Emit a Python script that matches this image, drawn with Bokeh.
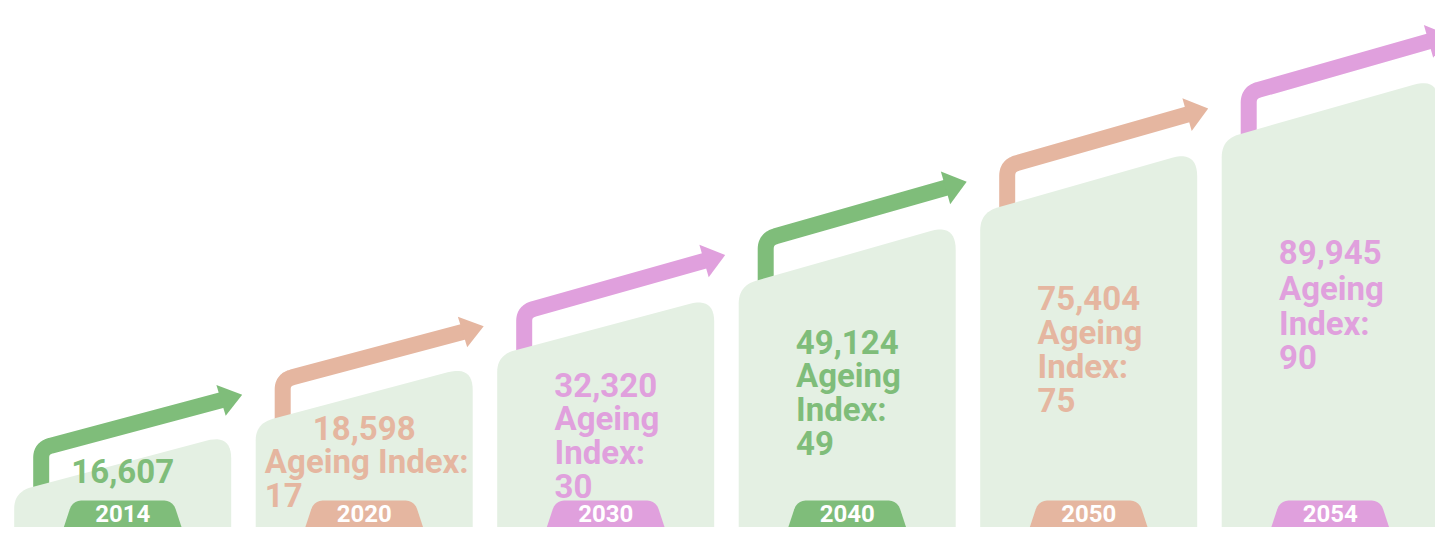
import math
from bokeh.plotting import figure
from bokeh.models import Range1d, ColumnDataSource
from bokeh.core.properties import value
from bokeh.embed import file_html
from bokeh.resources import INLINE

# ---------------- data ----------------
years = ["2014", "2020", "2030", "2040", "2050", "2054"]
population = [16607, 18598, 32320, 49124, 75404, 89945]
ageing_index = [None, 17, 30, 49, 75, 90]

# ---------------- style ----------------
palette = ["#7fbd7a", "#e5b6a0", "#e0a0dd"]
card_fill = "#e4f0e3"
FONT = "Roboto"
wrap_label = [True, False, True, True, True, True]

# ---------------- layout ----------------
W, H = 1435, 527          # figure size in pixels
DESIGN_H = 543            # height of the design the layout is drawn in
SLOT = 241.5
FIRST_CENTER = 122.2
CARD_W = 217.0
CARD_TOP0 = 443.0
CARD_STEP = 73.2
SLOPE = 0.285
BOTTOM = 600.0
ARROW_GAP = 39.0
FS = 33
LINE_H = 36.0
CAP = 0.711 * FS
BASE_FIX = 0.3            # svg text baseline correction (em)
TEXT_TOP0 = 468.0
TEXT_STEP = 46.0
TAB_TOP = 514.0
YEAR_FS = 24
WARP_FROM = 300.0


def fy(y):
    """Fit the design height into the figure, compressing only its lower part."""
    if y <= WARP_FROM:
        return y
    k = (H - WARP_FROM) / (DESIGN_H - WARP_FROM)
    return WARP_FROM + (y - WARP_FROM) * k


CH = {"0": .5615, "1": .5615, "2": .5615, "3": .5615, "4": .5615, "5": .5615,
      "6": .5615, "7": .5615, "8": .5615, "9": .5615, ",": .21, "A": .663,
      "g": .555, "e": .53, "i": .246, "n": .555, "I": .287, "d": .56,
      "x": .5, ":": .235, " ": .249}


def text_w(s, fs=FS):
    return sum(CH.get(c, .55) for c in s) * fs


def rounded(pts, ds, closed=True, n=12):
    xs, ys = [], []
    N = len(pts)
    for k in range(N):
        vx, vy = pts[k]
        d = ds[k]
        if d <= 0 or (not closed and (k == 0 or k == N - 1)):
            xs.append(vx); ys.append(vy)
            continue
        px, py = pts[k - 1]
        qx, qy = pts[(k + 1) % N]
        l1 = math.hypot(px - vx, py - vy)
        l2 = math.hypot(qx - vx, qy - vy)
        ax, ay = vx + (px - vx) * d / l1, vy + (py - vy) * d / l1
        bx, by = vx + (qx - vx) * d / l2, vy + (qy - vy) * d / l2
        for j in range(n + 1):
            t = j / n
            xs.append((1 - t) ** 2 * ax + 2 * (1 - t) * t * vx + t * t * bx)
            ys.append((1 - t) ** 2 * ay + 2 * (1 - t) * t * vy + t * t * by)
    return xs, [fy(v) for v in ys]


p = figure(width=W, height=H, x_range=Range1d(0, W), y_range=Range1d(H, 0),
           output_backend="svg", toolbar_location=None, min_border=0,
           x_axis_location=None, y_axis_location=None)
p.grid.visible = False
p.outline_line_color = None
p.background_fill_color = "white"
p.border_fill_color = "white"

card_xs, card_ys = [], []
arr_xs, arr_ys, arr_col = [], [], []
head_xs, head_ys = [], []
tab_xs, tab_ys = [], []
val_x, val_y, val_t, val_c = [], [], [], []
lab_x, lab_y, lab_t, lab_c = [], [], [], []
yr_x, yr_y = [], []

norm = math.hypot(1, SLOPE)
dvx, dvy = 1 / norm, -SLOPE / norm
nvx, nvy = SLOPE / norm, 1 / norm

for i, yr in enumerate(years):
    col = palette[i % 3]
    cc = FIRST_CENTER + SLOT * i
    xl, xr = cc - CARD_W / 2, cc + CARD_W / 2
    tr_y = CARD_TOP0 - CARD_STEP * i
    tl_y = tr_y + SLOPE * CARD_W

    def top_line(x):
        return tr_y + SLOPE * (xr - x)

    # card
    cx, cy = rounded([(xl, tl_y), (xr, tr_y), (xr, BOTTOM), (xl, BOTTOM)],
                     [18, 26, 0, 0])
    card_xs.append(cx); card_ys.append(cy)

    # arrow
    sx = cc - 81.5
    cy0 = top_line(sx) - ARROW_GAP
    tipx = cc + 119.5
    tipy = cy0 - SLOPE * (tipx - sx)
    endx, endy = tipx - 19 * dvx, tipy - 19 * dvy
    ax_, ay_ = rounded([(sx, top_line(sx) + 12), (sx, cy0), (endx, endy)],
                       [0, 10, 0], closed=False)
    arr_xs.append(ax_); arr_ys.append(ay_); arr_col.append(col)
    bcx, bcy = tipx - 22 * dvx, tipy - 22 * dvy
    head_xs.append([bcx + 17 * nvx, tipx, bcx - 17 * nvx])
    head_ys.append([fy(bcy + 17 * nvy), fy(tipy), fy(bcy - 17 * nvy)])

    # texts
    vtxt = f"{population[i]:,}"
    cap_top = TEXT_TOP0 - TEXT_STEP * i
    lines = []
    if ageing_index[i] is not None:
        if wrap_label[i]:
            lines = ["Ageing", "Index:", str(ageing_index[i])]
        else:
            lines = ["Ageing Index:", str(ageing_index[i])]
    block_w = max([text_w(vtxt)] + [text_w(s) for s in lines])
    val_x.append(cc)
    val_y.append(fy(cap_top) + CAP - BASE_FIX * FS)
    val_t.append(vtxt); val_c.append(col)
    for k, s in enumerate(lines):
        lab_x.append(cc - block_w / 2)
        lab_y.append(fy(cap_top + LINE_H * (k + 1)) + CAP - BASE_FIX * FS)
        lab_t.append(s); lab_c.append(col)

    # year tab
    tx, ty = rounded([(cc - 50, TAB_TOP), (cc + 50, TAB_TOP),
                      (cc + 63, TAB_TOP + 42), (cc - 63, TAB_TOP + 42)],
                     [10, 10, 0, 0])
    tab_xs.append(tx); tab_ys.append(ty)
    yr_x.append(cc)
    yr_y.append(fy(TAB_TOP) + 3.5 + 0.711 * YEAR_FS - BASE_FIX * YEAR_FS)

p.multi_line(xs="xs", ys="ys", line_color="c", line_width=16, line_join="round",
             line_cap="butt",
             source=ColumnDataSource(dict(xs=arr_xs, ys=arr_ys, c=arr_col)))
p.patches(xs="xs", ys="ys", fill_color="c", line_color=None,
          source=ColumnDataSource(dict(xs=head_xs, ys=head_ys, c=arr_col)))
p.patches(xs=card_xs, ys=card_ys, fill_color=card_fill, line_color=None)
p.text(x="x", y="y", text="t", text_color="c", text_font=value(FONT),
       text_font_style="bold", text_font_size=f"{FS}px", text_align="center",
       text_baseline="alphabetic",
       source=ColumnDataSource(dict(x=val_x, y=val_y, t=val_t, c=val_c)))
p.text(x="x", y="y", text="t", text_color="c", text_font=value(FONT),
       text_font_style="bold", text_font_size=f"{FS}px", text_align="left",
       text_baseline="alphabetic",
       source=ColumnDataSource(dict(x=lab_x, y=lab_y, t=lab_t, c=lab_c)))
p.patches(xs="xs", ys="ys", fill_color="c", line_color=None,
          source=ColumnDataSource(dict(xs=tab_xs, ys=tab_ys, c=arr_col)))
p.text(x=yr_x, y=yr_y, text=years, text_color="white", text_font=value(FONT),
       text_font_style="bold", text_font_size=f"{YEAR_FS}px", text_align="center",
       text_baseline="alphabetic")

open("out.html", "w").write(file_html(p, INLINE))
